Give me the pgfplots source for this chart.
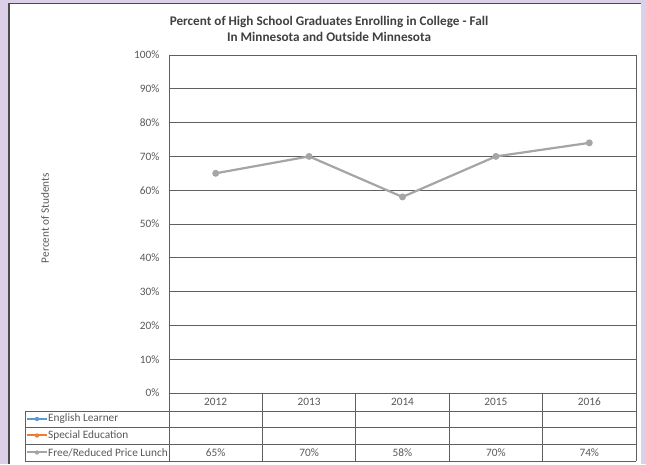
\documentclass[border=0pt]{standalone}
\usepackage{fontspec}
\setmainfont{Carlito}
\usepackage{pgfplots}
\pgfplotsset{compat=1.18}
\definecolor{lav}{RGB}{220,208,232}
\definecolor{frame}{RGB}{96,96,96}
\definecolor{txt}{RGB}{89,89,89}
\definecolor{elblue}{RGB}{91,155,213}
\definecolor{seorange}{RGB}{237,125,49}
\definecolor{frgray}{RGB}{165,165,165}
\newcommand{\tabfont}{\fontsize{11.3}{13}\selectfont}

\begin{document}
\begin{tikzpicture}[x=1pt,y=1pt]
% background and white chart panel
\fill[lav] (0,0) rectangle (646,-464);
\fill[white] (8,-3) rectangle (641,-464);
\draw[black!70, line width=1.5pt] (8.75,-464) -- (8.75,-3.75) -- (641,-3.75);

% title and y label
\node[font=\bfseries\fontsize{13.2}{16}\selectfont, text=black!75, align=center] at (329,-29)
  {Percent of High School Graduates Enrolling in College - Fall\\In Minnesota and Outside Minnesota};
\node[rotate=90, font=\tabfont, text=txt] at (45,-218) {Percent of Students};

\begin{axis}[
  at={(169pt,-393pt)}, anchor=south west,
  scale only axis, width=467pt, height=338pt,
  xmin=0.5, xmax=5.5, ymin=0, ymax=100,
  xtick=\empty,
  ytick={0,10,...,100},
  yticklabel={\pgfmathprintnumber{\tick}\%},
  /pgf/number format/assume math mode=true,
  yticklabel style={font=\tabfont, text=txt, xshift=-6pt},
  major tick length=0pt,
  ymajorgrids=true,
  grid style={frame, line width=0.8pt},
  axis line style={frame, line width=0.9pt},
  clip=false,
]
\addplot[frgray, line width=2.2pt, mark=*, mark size=2.3pt,
  mark options={fill=frgray, draw=frgray}]
  coordinates {(1,65) (2,70) (3,58) (4,70) (5,74)};
\end{axis}

% data table under the plot
\begin{scope}[frame, line width=0.9pt]
\foreach \yy in {-411,-427,-444,-461} \draw (25,\yy) -- (636,\yy);
\draw (25,-411) -- (25,-461);
\foreach \k in {0,...,5} \draw ({169+93.4*\k},-393) -- ({169+93.4*\k},-461);
\end{scope}
\foreach \yr [count=\k] in {2012,2013,2014,2015,2016}
  \node[font=\tabfont, text=txt] at ({169+93.4*(\k-0.5)},-402) {\yr};
\foreach \v [count=\k] in {65,70,58,70,74}
  \node[font=\tabfont, text=txt] at ({169+93.4*(\k-0.5)},-452.5) {\v\%};

% legend keys in the table
\foreach \c/\lab/\yy in {elblue/English Learner/-419, seorange/Special Education/-435.5, frgray/Free\slash Reduced Price Lunch/-452.5} {
  \draw[\c, line width=2pt] (27,\yy) -- (47,\yy);
  \fill[\c] (37,\yy) circle (2.2pt);
  \node[font=\tabfont, text=txt, anchor=west, inner sep=1pt] at (47,\yy) {\lab};
}
\end{tikzpicture}
\end{document}
